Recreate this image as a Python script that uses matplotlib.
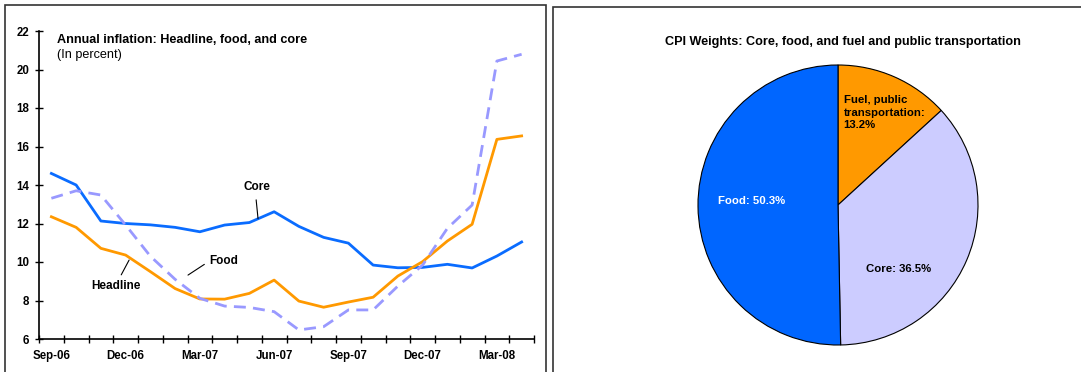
import numpy as np
import matplotlib.pyplot as plt
from matplotlib.patches import Rectangle

plt.rcParams['font.family'] = ['Liberation Sans', 'DejaVu Sans']

months = ['Sep-06', 'Oct-06', 'Nov-06', 'Dec-06', 'Jan-07', 'Feb-07', 'Mar-07',
          'Apr-07', 'May-07', 'Jun-07', 'Jul-07', 'Aug-07', 'Sep-07', 'Oct-07',
          'Nov-07', 'Dec-07', 'Jan-08', 'Feb-08', 'Mar-08', 'Apr-08']
core = [14.6, 14.0, 12.13, 12.0, 11.93, 11.8, 11.57, 11.92, 12.05, 12.61,
        11.85, 11.28, 10.98, 9.84, 9.7, 9.72, 9.88, 9.69, 10.31, 11.04]
headline = [12.35, 11.8, 10.71, 10.36, 9.5, 8.62, 8.08, 8.07, 8.37, 9.06,
            7.97, 7.65, 7.92, 8.17, 9.27, 10.02, 11.09, 11.96, 16.37, 16.55]
food = [13.31, 13.7, 13.48, 11.92, 10.3, 9.1, 8.11, 7.71, 7.64, 7.42,
        6.47, 6.64, 7.51, 7.51, 8.75, 9.84, 11.75, 12.96, 20.44, 20.79]

weight_labels = ['Fuel, public\ntransportation:\n13.2%', 'Core: 36.5%', 'Food: 50.3%']
weights = [13.2, 36.5, 50.3]

c_core = '#0A6CFF'
c_head = '#FF9900'
c_food = '#9999FF'

fig = plt.figure(figsize=(10.81, 3.72), dpi=100)
W, H = 1081, 372

# panel frames
fig.patches.append(Rectangle((5 / W, -0.1), 541 / W, 1.1 - 5 / H, transform=fig.transFigure,
                             fill=False, edgecolor='#333333', lw=1.2))
fig.patches.append(Rectangle((553 / W, -0.1), 0.5, 1.1 - 7 / H, transform=fig.transFigure,
                             fill=False, edgecolor='#333333', lw=1.2))

# --- line chart ---
ax = fig.add_axes([39 / W, 1 - 339 / H, 495 / W, 308 / H])
x = np.arange(len(months))
ax.plot(x, core, color=c_core, lw=2)
ax.plot(x, headline, color=c_head, lw=2)
ax.plot(x, food, color=c_food, lw=2, dashes=(4.3, 2.6))

ax.set_xlim(-0.5, len(months) - 0.5)
ax.set_ylim(6, 22)
ax.set_yticks(range(6, 23, 2))
ax.set_xticks(np.arange(-0.5, len(months), 1))
ax.set_xticklabels([])
ax.set_xticks(x[::3], minor=True)
ax.set_xticklabels(months[::3], minor=True)
ax.tick_params(axis='x', which='minor', length=0, pad=8)
ax.tick_params(axis='x', which='major', direction='inout', length=6, width=1)
ax.tick_params(axis='y', direction='inout', length=6, width=1, pad=4)
for lab in ax.get_yticklabels() + ax.get_xticklabels(minor=True):
    lab.set_fontweight('bold')
    lab.set_fontsize(8.3)
for s in ['top', 'right']:
    ax.spines[s].set_visible(False)
for s in ['left', 'bottom']:
    ax.spines[s].set_linewidth(1.2)

ax.text(0.037, 0.971, 'Annual inflation: Headline, food, and core', transform=ax.transAxes,
        fontsize=9.1, fontweight='bold', va='center')
ax.text(0.037, 0.922, '(In percent)', transform=ax.transAxes, fontsize=9.1, va='center')

leader = dict(arrowstyle='-', color='black', lw=0.8, shrinkB=0)
ax.annotate('Core', xy=(8.35, 12.25), xytext=(8.3, 13.9), fontsize=8.5, fontweight='bold',
            ha='center', va='center',
            arrowprops=dict(leader, relpos=(0.45, 0), shrinkA=3))
ax.annotate('Food', xy=(5.52, 9.32), xytext=(6.97, 10.05), fontsize=8.5, fontweight='bold',
            ha='center', va='center',
            arrowprops=dict(leader, relpos=(0, 0.5), shrinkA=2))
ax.annotate('Headline', xy=(3.14, 10.1), xytext=(2.61, 8.75), fontsize=8.5, fontweight='bold',
            ha='center', va='center',
            arrowprops=dict(leader, relpos=(0.55, 1), shrinkA=2))

# --- pie chart ---
pax = fig.add_axes([(838 - 140) / W, 1 - (205 + 140) / H, 280 / W, 280 / H])
wedges, _ = pax.pie(weights, colors=[c_head, '#CCCCFF', '#0066FF'], startangle=90,
                    counterclock=False, wedgeprops=dict(edgecolor='black', linewidth=0.8))
pax.set_xlim(-1, 1)
pax.set_ylim(-1, 1)
pax.set_aspect('equal')
pax.text(0.04, 0.66, weight_labels[0], fontsize=8.2, fontweight='bold', ha='left', va='center',
         linespacing=1.3)
pax.text(0.43, -0.46, weight_labels[1], fontsize=8.2, fontweight='bold', ha='center', va='center')
pax.text(-0.62, 0.03, weight_labels[2], fontsize=8.2, fontweight='bold', ha='center', va='center',
         color='white')

fig.text(843 / W, 1 - 42 / H, 'CPI Weights: Core, food, and fuel and public transportation',
         fontsize=9.1, fontweight='bold', ha='center', va='center')

fig.savefig('out.png', dpi=100)
